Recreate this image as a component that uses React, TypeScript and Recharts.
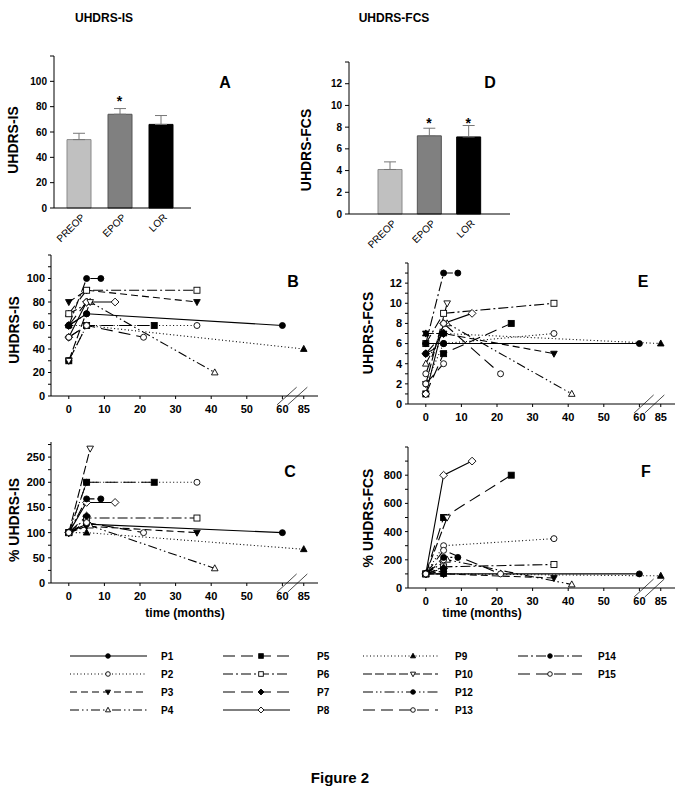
import React from "react";
import {
  LineChart,
  Line,
  XAxis,
  YAxis,
  ReferenceLine,
  ComposedChart,
  Bar,
  Cell,
  ErrorBar,
} from "recharts";

const FONT = "'Liberation Sans', Arial, Helvetica, sans-serif";

// group means (panels A and D)
const groups = ["PREOP", "EPOP", "LOR"];
const isMean = [54, 74, 66];
const isSem = [5, 4.5, 7];
const isStar = [null, 87, null];
const fcsMean = [4.1, 7.2, 7.1];
const fcsSem = [0.7, 0.7, 1.05];
const fcsStar = [null, 8.7, 8.7];
const barFills = ["#c0c0c0", "#808080", "#000000"];
const barStrokes = ["#8a8a8a", "#555555", "#000000"];

// individual patients (panels B, C, E, F)
const patients = ["P1", "P2", "P3", "P4", "P5", "P6", "P7", "P8", "P9", "P10", "P12", "P13", "P14", "P15"];
const monthsIS = [
  [0, 5, 60], [0, 5, 36], [0, 5, 36], [0, 6, 41], [0, 5, 24], [0, 5, 36], [0, 5],
  [0, 5, 13], [0, 5, 85], [0, 6], [0, 5], [0, 5], [0, 5, 9], [0, 5, 21],
];
const scoreIS = [
  [60, 70, 60], [30, 60, 60], [80, 90, 80], [70, 80, 20], [30, 60, 60], [70, 90, 90], [60, 80],
  [50, 80, 80], [60, 60, 40], [30, 80], [60, 70], [50, 60], [60, 100, 100], [50, 60, 50],
];
const pctIS = [
  [100, 117, 100], [100, 200, 200], [100, 113, 100], [100, 114, 29], [100, 200, 200], [100, 129, 129], [100, 133],
  [100, 160, 160], [100, 100, 67], [100, 267], [100, 117], [100, 120], [100, 167, 167], [100, 120, 100],
];
const monthsFCS = [
  [0, 5, 60], [0, 5, 36], [0, 5, 36], [0, 6, 41], [0, 5, 24], [0, 5, 36], [0, 5],
  [0, 5, 13], [0, 5, 85], [0, 6], [0, 5], [0, 5], [0, 5, 9], [0, 5, 21],
];
const scoreFCS = [
  [6, 6, 6], [2, 6, 7], [7, 7, 5], [4, 8, 1], [1, 5, 8], [6, 9, 10], [5, 7],
  [1, 8, 9], [7, 7, 6], [2, 10], [5, 6], [2, 4], [6, 13, 13], [3, 8, 3],
];
const pctFCS = [
  [100, 100, 100], [100, 300, 350], [100, 100, 71], [100, 200, 25], [100, 500, 800], [100, 150, 167], [100, 140],
  [100, 800, 900], [100, 100, 86], [100, 500], [100, 120], [100, 200], [100, 217, 217], [100, 267, 100],
];

const lineDash = [
  "", "1 2.5", "7 4", "9 3 1.5 3 1.5 3", "12 6", "10 3 2 3", "12 6",
  "", "1 2.5", "9 3", "10 3 1.5 2.5 1.5 3", "12 6", "10 3 2 3", "12 6",
];
const markerShape = [
  "circle", "circle", "triDown", "triUp", "square", "square", "diamond",
  "diamond", "triUp", "triDown", "circle", "circle", "circle", "circle",
];
const markerFilled = [true, false, true, false, true, false, true, false, true, false, true, false, true, false];

// x axis with a break after 60 months
const xTickMonths = [0, 10, 20, 30, 40, 50, 60, 85];
const breakMonth = 60;
const breakScale = 0.24;
const axisPos = (m: number) => (m > breakMonth ? breakMonth + Math.round((m - breakMonth) * breakScale) : m);
const xTicks = xTickMonths.map(axisPos);

const ticksIS = [0, 10, 20, 30, 40, 50, 60, 70, 80, 90, 100, 110, 120];
const labelsIS = [0, 20, 40, 60, 80, 100];
const ticksPctIS = [0, 25, 50, 75, 100, 125, 150, 175, 200, 225, 250, 275];
const labelsPctIS = [0, 50, 100, 150, 200, 250];
const ticksFCS = [0, 1, 2, 3, 4, 5, 6, 7, 8, 9, 10, 11, 12, 13, 14];
const labelsFCS = [0, 2, 4, 6, 8, 10, 12];
const ticksPctFCS = [0, 100, 200, 300, 400, 500, 600, 700, 800, 900, 1000];
const labelsPctFCS = [0, 200, 400, 600, 800];
const barTicksIS = [0, 20, 40, 60, 80, 100, 120];
const barTicksFCS = [0, 2, 4, 6, 8, 10, 12, 14];

function Marker({ shape, filled, cx, cy, r }: { shape: string; filled: boolean; cx: number; cy: number; r: number }) {
  const fill = filled ? "#000" : "#fff";
  const common = { fill, stroke: "#000", strokeWidth: 0.9 };
  if (shape === "square") return <rect x={cx - r} y={cy - r} width={2 * r} height={2 * r} {...common} />;
  if (shape === "diamond")
    return <polygon points={`${cx},${cy - r * 1.3} ${cx + r * 1.3},${cy} ${cx},${cy + r * 1.3} ${cx - r * 1.3},${cy}`} {...common} />;
  if (shape === "triUp")
    return <polygon points={`${cx},${cy - r * 1.2} ${cx + r * 1.1},${cy + r * 0.8} ${cx - r * 1.1},${cy + r * 0.8}`} {...common} />;
  if (shape === "triDown")
    return <polygon points={`${cx},${cy + r * 1.2} ${cx + r * 1.1},${cy - r * 0.8} ${cx - r * 1.1},${cy - r * 0.8}`} {...common} />;
  return <circle cx={cx} cy={cy} r={r} {...common} />;
}

const tickStyle = { fontSize: 11, fontWeight: "bold" as const, fill: "#000", fontFamily: FONT };
const barTickStyle = { fontSize: 10, fontWeight: "bold" as const, fill: "#000", fontFamily: FONT };

type TrendProps = {
  left: number;
  top: number;
  months: number[][];
  values: number[][];
  yMax: number;
  yTicks: number[];
  yLabels: number[];
  breakHalf: number;
};

function TrendPanel(p: TrendProps) {
  return (
    <div style={{ position: "absolute", left: p.left, top: p.top }}>
      <LineChart width={326} height={181} margin={{ top: 10, right: 8, bottom: 0, left: 0 }}>
        <XAxis
          type="number"
          dataKey="x"
          domain={[-5, 70]}
          ticks={xTicks}
          interval={0}
          tickFormatter={(v: number) => String(xTickMonths[xTicks.indexOf(v)])}
          tick={tickStyle}
          tickSize={3}
          tickMargin={6}
          stroke="#000"
          height={30}
          allowDataOverflow
        />
        <YAxis
          type="number"
          domain={[0, p.yMax]}
          ticks={p.yTicks}
          interval={0}
          tickFormatter={(v: number) => (p.yLabels.includes(v) ? String(v) : "")}
          tick={tickStyle}
          tickSize={3}
          tickMargin={3}
          stroke="#000"
          width={51}
          allowDataOverflow
        />
        <ReferenceLine
          segment={[{ x: 58.5, y: -p.breakHalf }, { x: 64, y: p.breakHalf }]}
          stroke="#000"
          strokeWidth={0.7}
          ifOverflow="visible"
        />
        <ReferenceLine
          segment={[{ x: 61.5, y: -p.breakHalf }, { x: 67, y: p.breakHalf }]}
          stroke="#000"
          strokeWidth={0.7}
          ifOverflow="visible"
        />
        {patients.map((name, i) => (
          <Line
            key={name}
            data={p.months[i].map((m, j) => ({ x: axisPos(m), y: p.values[i][j] }))}
            dataKey="y"
            type="linear"
            stroke="#000"
            strokeWidth={1.1}
            strokeDasharray={lineDash[i] || undefined}
            dot={(d: any) => (
              <Marker key={`${name}-${d.index}`} shape={markerShape[i]} filled={markerFilled[i]} cx={d.cx} cy={d.cy} r={3} />
            )}
            activeDot={false}
            isAnimationActive={false}
          />
        ))}
      </LineChart>
    </div>
  );
}

type BarProps = {
  left: number;
  top: number;
  width: number;
  means: number[];
  sems: number[];
  stars: (number | null)[];
  yMax: number;
  yTicks: number[];
  padL: number;
  padR: number;
};

const BAR_H = 202;
const BAR_XAXIS_H = 40;
const BAR_YAXIS_W = 54;
const BAR_MARGIN_R = 10;

// slanted category names, placed under the band centres of the bar panel
function SlantedLabels(p: BarProps) {
  const plotLeft = p.left + BAR_YAXIS_W;
  const plotRight = p.left + p.width - BAR_MARGIN_R;
  const band = (plotRight - plotLeft - p.padL - p.padR) / groups.length;
  const axisY = p.top + BAR_H - BAR_XAXIS_H;
  return (
    <svg width={683} height={799} style={{ position: "absolute", left: 0, top: 0, pointerEvents: "none" }}>
      {groups.map((g, i) => {
        const cx = plotLeft + p.padL + band * (i + 0.5);
        return (
          <text
            key={g}
            transform={`translate(${cx + 7},${axisY + 10}) rotate(-45)`}
            textAnchor="end"
            fontSize={10}
            fontFamily={FONT}
            fill="#000"
          >
            {g}
          </text>
        );
      })}
    </svg>
  );
}

function BarPanel(p: BarProps) {
  const data = groups.map((g, i) => ({ g, v: p.means[i], e: [0, p.sems[i]], s: p.stars[i] }));
  const last = p.yTicks[p.yTicks.length - 1];
  return (
    <>
      <div style={{ position: "absolute", left: p.left, top: p.top }}>
        <ComposedChart width={p.width} height={BAR_H} data={data} margin={{ top: 10, right: BAR_MARGIN_R, bottom: 0, left: 0 }}>
          <XAxis
            dataKey="g"
            tick={false}
            tickLine={false}
            stroke="#000"
            height={BAR_XAXIS_H}
            interval={0}
            padding={{ left: p.padL, right: p.padR }}
          />
          <YAxis
            type="number"
            domain={[0, p.yMax]}
            ticks={p.yTicks}
            interval={0}
            tickFormatter={(v: number) => (v === last ? "" : String(v))}
            tick={barTickStyle}
            tickSize={4}
            tickMargin={3}
            stroke="#000"
            width={BAR_YAXIS_W}
          />
          <Bar dataKey="v" barSize={24} isAnimationActive={false}>
            {data.map((d, i) => (
              <Cell key={d.g} fill={barFills[i]} stroke={barStrokes[i]} strokeWidth={1} />
            ))}
            <ErrorBar dataKey="e" width={6} stroke="#777" strokeWidth={1} direction="y" />
          </Bar>
          <Line
            dataKey="s"
            stroke="none"
            isAnimationActive={false}
            activeDot={false}
            dot={(d: any) =>
              d.payload.s == null ? (
                <g key={`s${d.index}`} />
              ) : (
                <text key={`s${d.index}`} x={d.cx} y={d.cy + 8} textAnchor="middle" fontSize={14} fontWeight="bold" fontFamily={FONT}>
                  *
                </text>
              )
            }
          />
        </ComposedChart>
      </div>
      <SlantedLabels {...p} />
    </>
  );
}

const legendLineX1 = [70, 223, 363, 518];
const legendLineX2 = [147, 290, 438, 582];
const legendMarkX = [108, 261, 413, 550];
const legendTextX = [161, 317, 455, 598];
const legendRowY = [656, 674, 692, 710];

function Overlay() {
  const bold = { fontFamily: FONT, fontWeight: "bold" as const, fill: "#000" };
  const vLabel = (x: number, y: number, text: string) => (
    <text transform={`translate(${x},${y}) rotate(-90)`} textAnchor="middle" dominantBaseline="central" fontSize={14} {...bold}>
      {text}
    </text>
  );
  return (
    <svg width={683} height={799} style={{ position: "absolute", left: 0, top: 0, pointerEvents: "none" }}>
      <text x={104} y={22} textAnchor="middle" fontSize={12} {...bold}>UHDRS-IS</text>
      <text x={394} y={22} textAnchor="middle" fontSize={12} {...bold}>UHDRS-FCS</text>

      {vLabel(13, 140, "UHDRS-IS")}
      {vLabel(306, 150, "UHDRS-FCS")}
      {vLabel(14, 330, "UHDRS-IS")}
      {vLabel(14, 520, "% UHDRS-IS")}
      {vLabel(368, 333, "UHDRS-FCS")}
      {vLabel(368, 518, "% UHDRS-FCS")}

      <text x={225} y={88} textAnchor="middle" fontSize={16} {...bold}>A</text>
      <text x={490} y={88} textAnchor="middle" fontSize={16} {...bold}>D</text>
      <text x={293} y={287} textAnchor="middle" fontSize={16} {...bold}>B</text>
      <text x={643} y={287} textAnchor="middle" fontSize={16} {...bold}>E</text>
      <text x={290} y={477} textAnchor="middle" fontSize={16} {...bold}>C</text>
      <text x={646} y={477} textAnchor="middle" fontSize={16} {...bold}>F</text>

      <text x={185} y={617} textAnchor="middle" fontSize={12} {...bold}>time (months)</text>
      <text x={482} y={617} textAnchor="middle" fontSize={12} {...bold}>time (months)</text>

      {patients.map((name, i) => {
        const col = Math.floor(i / 4);
        const row = i % 4;
        const y = legendRowY[row];
        return (
          <g key={name}>
            <line
              x1={legendLineX1[col]}
              x2={legendLineX2[col]}
              y1={y}
              y2={y}
              stroke="#000"
              strokeWidth={1.1}
              strokeDasharray={lineDash[i] || undefined}
            />
            <Marker shape={markerShape[i]} filled={markerFilled[i]} cx={legendMarkX[col]} cy={y} r={2.3} />
            <text x={legendTextX[col]} y={y + 4} fontSize={10} {...bold}>{name}</text>
          </g>
        );
      })}

      <text x={340} y={783} textAnchor="middle" fontSize={15} {...bold}>Figure 2</text>
    </svg>
  );
}

export default function App() {
  return (
    <div style={{ position: "absolute", left: 0, top: 0, width: 683, height: 799, background: "#fff" }}>
      <BarPanel left={0} top={46} width={201} means={isMean} sems={isSem} stars={isStar} yMax={120} yTicks={barTicksIS} padL={4} padR={10} />
      <BarPanel left={295} top={52} width={225} means={fcsMean} sems={fcsSem} stars={fcsStar} yMax={14} yTicks={barTicksFCS} padL={21} padR={22} />
      <TrendPanel left={0} top={245} months={monthsIS} values={scoreIS} yMax={120} yTicks={ticksIS} yLabels={labelsIS} breakHalf={7.5} />
      <TrendPanel left={0} top={432} months={monthsIS} values={pctIS} yMax={280} yTicks={ticksPctIS} yLabels={labelsPctIS} breakHalf={18} />
      <TrendPanel left={357} top={253} months={monthsFCS} values={scoreFCS} yMax={14} yTicks={ticksFCS} yLabels={labelsFCS} breakHalf={0.9} />
      <TrendPanel left={357} top={437} months={monthsFCS} values={pctFCS} yMax={1000} yTicks={ticksPctFCS} yLabels={labelsPctFCS} breakHalf={64} />
      <Overlay />
    </div>
  );
}
